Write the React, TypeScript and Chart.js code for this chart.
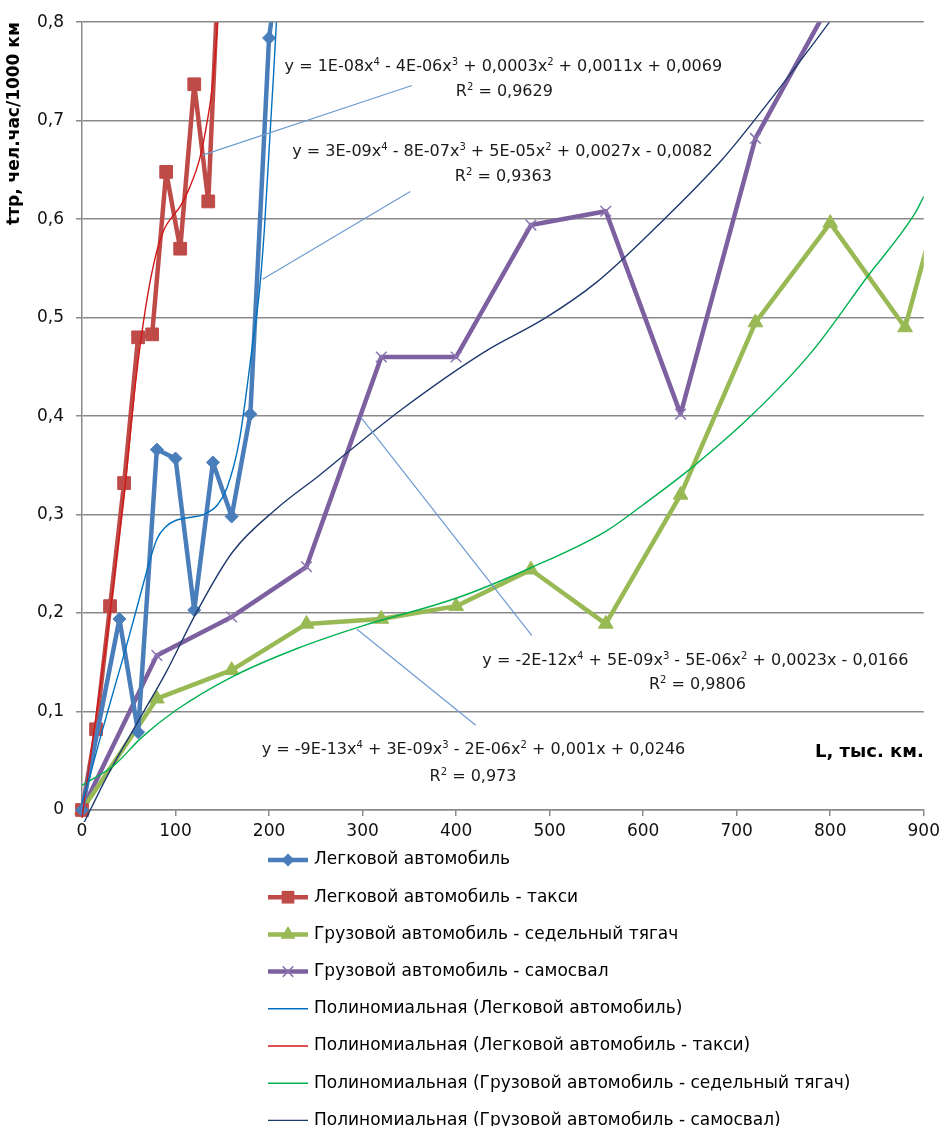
import React, { useEffect, useRef } from 'react';
import { Chart, registerables } from 'chart.js';

Chart.register(...registerables);

// ---- Data ----
const carX = [0, 40, 60, 80, 100, 120, 140, 160, 180, 200, 220];
const carY = [0, 0.194, 0.079, 0.366, 0.357, 0.203, 0.353, 0.298, 0.402, 0.784, 0.93];

const taxiX = [0, 15, 30, 45, 60, 75, 90, 105, 120, 135, 150];
const taxiY = [0, 0.082, 0.207, 0.332, 0.48, 0.483, 0.648, 0.57, 0.737, 0.618, 0.94];

const tractorX = [0, 80, 160, 240, 320, 400, 480, 560, 640, 720, 800, 880, 960];
const tractorY = [0, 0.113, 0.142, 0.189, 0.194, 0.207, 0.244, 0.189, 0.32, 0.495, 0.596, 0.49, 0.77];

const dumpX = [0, 80, 160, 240, 320, 400, 480, 560, 640, 720, 800];
const dumpY = [0, 0.157, 0.196, 0.247, 0.46, 0.46, 0.594, 0.608, 0.402, 0.682, 0.82];

// Trend lines
const carTrendX = [0, 10, 20, 35, 50, 60, 70, 80, 90, 100, 115, 130, 145, 155, 168, 182, 190, 195, 200, 205, 209, 213];
const carTrendY = [0.007, 0.04, 0.075, 0.125, 0.175, 0.21, 0.245, 0.275, 0.288, 0.294, 0.297, 0.3, 0.31, 0.327, 0.374, 0.47, 0.53, 0.59, 0.67, 0.75, 0.82, 0.9];

const taxiTrendX = [0, 15, 30, 45, 58, 68, 78, 88, 97, 105, 115, 126, 134, 140, 145, 150];
const taxiTrendY = [-0.008, 0.095, 0.2, 0.32, 0.44, 0.51, 0.56, 0.59, 0.603, 0.613, 0.632, 0.662, 0.7, 0.74, 0.8, 0.88];

const tractorTrendX = [0, 35, 63, 100, 160, 230, 300, 400, 480, 560, 600, 655, 715, 780, 840, 890, 900];
const tractorTrendY = [0.025, 0.046, 0.073, 0.101, 0.135, 0.164, 0.187, 0.215, 0.246, 0.283, 0.31, 0.35, 0.4, 0.465, 0.542, 0.605, 0.623];

const dumpTrendX = [0, 30, 60, 90, 122, 161, 208, 254, 285, 342, 430, 496, 549, 615, 684, 731, 757, 799, 850];
const dumpTrendY = [-0.017, 0.04, 0.09, 0.14, 0.2, 0.262, 0.306, 0.34, 0.364, 0.407, 0.465, 0.5, 0.535, 0.593, 0.66, 0.715, 0.747, 0.8, 0.87];

const seriesLabels = [
  'Легковой автомобиль',
  'Легковой автомобиль - такси',
  'Грузовой автомобиль - седельный тягач',
  'Грузовой автомобиль - самосвал',
  'Полиномиальная (Легковой автомобиль)',
  'Полиномиальная (Легковой автомобиль - такси)',
  'Полиномиальная (Грузовой автомобиль - седельный тягач)',
  'Полиномиальная (Грузовой автомобиль - самосвал)',
];

const xTickValues = [0, 100, 200, 300, 400, 500, 600, 700, 800, 900];
const yTickLabels = ['0', '0,1', '0,2', '0,3', '0,4', '0,5', '0,6', '0,7', '0,8'];

const yTitle = 'tтр, чел.час/1000 км';
const xTitle = 'L, тыс. км.';

// Trend equation labels (superscripts marked with ^)
const eqLines = [
  ['y = 1E-08x^4 - 4E-06x^3 + 0,0003x^2 + 0,0011x + 0,0069', 'R^2 = 0,9629'],
  ['y = 3E-09x^4 - 8E-07x^3 + 5E-05x^2 + 0,0027x - 0,0082', 'R^2 = 0,9363'],
  ['y = -2E-12x^4 + 5E-09x^3 - 5E-06x^2 + 0,0023x - 0,0166', 'R^2 = 0,9806'],
  ['y = -9E-13x^4 + 3E-09x^3 - 2E-06x^2 + 0,001x + 0,0246', 'R^2 = 0,973'],
];

const FONT = "'DejaVu Sans', sans-serif";

const pts = (xs: number[], ys: number[]) => xs.map((x, i) => ({ x, y: ys[i] }));

function drawRich(ctx: CanvasRenderingContext2D, text: string, cx: number, cy: number, size: number) {
  const parts: { t: string; sup: boolean }[] = [];
  const re = /\^(\d)/g;
  let last = 0;
  let m: RegExpExecArray | null;
  while ((m = re.exec(text))) {
    if (m.index > last) parts.push({ t: text.slice(last, m.index), sup: false });
    parts.push({ t: m[1], sup: true });
    last = m.index + m[0].length;
  }
  if (last < text.length) parts.push({ t: text.slice(last), sup: false });
  const normal = `${size}px ${FONT}`;
  const small = `${Math.round(size * 0.62)}px ${FONT}`;
  let total = 0;
  const widths = parts.map((p) => {
    ctx.font = p.sup ? small : normal;
    const w = ctx.measureText(p.t).width;
    total += w;
    return w;
  });
  let x = cx - total / 2;
  const base = cy + size * 0.36;
  ctx.textAlign = 'left';
  ctx.textBaseline = 'alphabetic';
  parts.forEach((p, i) => {
    ctx.font = p.sup ? small : normal;
    ctx.fillText(p.t, x, p.sup ? base - size * 0.38 : base);
    x += widths[i];
  });
}

function drawMarker(ctx: CanvasRenderingContext2D, style: string, x: number, y: number, r: number, color: string) {
  ctx.save();
  ctx.fillStyle = color;
  ctx.strokeStyle = color;
  ctx.beginPath();
  if (style === 'rectRot') {
    ctx.moveTo(x, y - r);
    ctx.lineTo(x + r, y);
    ctx.lineTo(x, y + r);
    ctx.lineTo(x - r, y);
    ctx.closePath();
    ctx.fill();
  } else if (style === 'rect') {
    const s = r * Math.SQRT1_2;
    ctx.rect(x - s, y - s, 2 * s, 2 * s);
    ctx.fill();
  } else if (style === 'triangle') {
    ctx.moveTo(x, y - r);
    ctx.lineTo(x + r * 0.866, y + r * 0.5);
    ctx.lineTo(x - r * 0.866, y + r * 0.5);
    ctx.closePath();
    ctx.fill();
  } else if (style === 'crossRot') {
    const d = r * Math.SQRT1_2;
    ctx.lineWidth = 1.5;
    ctx.moveTo(x - d, y - d);
    ctx.lineTo(x + d, y + d);
    ctx.moveTo(x + d, y - d);
    ctx.lineTo(x - d, y + d);
    ctx.stroke();
  }
  ctx.restore();
}

const annotationPlugin = {
  id: 'trendAnnotations',
  afterDatasetsDraw(chart: any) {
    const { ctx, scales } = chart;
    const xs = scales.x;
    const ys = scales.y;
    const opts = chart.options.plugins.trendAnnotations;
    ctx.save();
    // leader lines
    ctx.strokeStyle = opts.leaderColor;
    ctx.lineWidth = 1.2;
    opts.leaders.forEach((l: number[]) => {
      ctx.beginPath();
      ctx.moveTo(xs.getPixelForValue(l[0]), ys.getPixelForValue(l[1]));
      ctx.lineTo(xs.getPixelForValue(l[2]), ys.getPixelForValue(l[3]));
      ctx.stroke();
    });
    // equations
    ctx.fillStyle = '#1a1a1a';
    opts.labelPos.forEach((p: number[], i: number) => {
      drawRich(ctx, eqLines[i][0], xs.getPixelForValue(p[0]), ys.getPixelForValue(p[1]), 16);
      drawRich(ctx, eqLines[i][1], xs.getPixelForValue(p[2]), ys.getPixelForValue(p[3]), 16);
    });
    // x axis title inside plot
    ctx.font = `bold 18px ${FONT}`;
    ctx.fillStyle = '#000';
    ctx.textAlign = 'right';
    ctx.textBaseline = 'middle';
    ctx.fillText(xTitle, xs.getPixelForValue(opts.xTitlePos[0]), ys.getPixelForValue(opts.xTitlePos[1]));
    ctx.restore();
  },
  afterDraw(chart: any) {
    const { ctx } = chart;
    const lg = chart.options.plugins.trendAnnotations.legend;
    ctx.save();
    chart.data.datasets.forEach((ds: any, i: number) => {
      const y = lg.top + i * lg.spacing;
      ctx.beginPath();
      ctx.strokeStyle = ds.borderColor;
      ctx.lineWidth = ds.borderWidth;
      ctx.moveTo(lg.left, y);
      ctx.lineTo(lg.left + lg.lineLen, y);
      ctx.stroke();
      if (ds.pointRadius > 0) {
        drawMarker(ctx, ds.pointStyle, lg.left + lg.lineLen / 2, y, ds.pointRadius, ds.pointBorderColor);
      }
      ctx.font = `17px ${FONT}`;
      ctx.fillStyle = '#000';
      ctx.textAlign = 'left';
      ctx.textBaseline = 'middle';
      ctx.fillText(ds.label, lg.left + lg.lineLen + 6, y);
    });
    ctx.restore();
  },
};

export default function App() {
  const ref = useRef<HTMLCanvasElement | null>(null);

  useEffect(() => {
    document.body.style.margin = '0';
    const canvas = ref.current;
    if (!canvas) return;
    const gridColor = '#8a8a8a';
    const clip = { left: 12, bottom: 12, top: 0, right: 0 };
    const main = (i: number, xs: number[], ys: number[], color: string, style: string, r: number, markerColor: string, pbw: number) => ({
      label: seriesLabels[i],
      data: pts(xs, ys),
      showLine: true,
      borderColor: color,
      backgroundColor: color,
      borderWidth: 4.5,
      borderJoinStyle: 'round',
      borderCapStyle: 'round',
      pointStyle: style,
      pointRadius: r,
      pointBackgroundColor: markerColor,
      pointBorderColor: markerColor,
      pointBorderWidth: pbw,
      tension: 0,
      clip,
      order: 1,
    });
    const trend = (i: number, xs: number[], ys: number[], color: string) => ({
      label: seriesLabels[i],
      data: pts(xs, ys),
      showLine: true,
      borderColor: color,
      backgroundColor: color,
      borderWidth: 1.4,
      borderJoinStyle: 'round',
      pointRadius: 0,
      pointStyle: 'line',
      cubicInterpolationMode: 'monotone',
      clip,
      order: 0,
    });

    const chart = new Chart(canvas, {
      type: 'scatter',
      data: {
        datasets: [
          main(0, carX, carY, '#4a7ebb', 'rectRot', 6.5, '#4a7ebb', 1),
          main(1, taxiX, taxiY, '#be4b48', 'rect', 9, '#be4b48', 1),
          main(2, tractorX, tractorY, '#98b954', 'triangle', 8.5, '#98b954', 1),
          main(3, dumpX, dumpY, '#7d60a0', 'crossRot', 7.5, '#8c74b0', 1.5),
          trend(4, carTrendX, carTrendY, '#0070c0'),
          trend(5, taxiTrendX, taxiTrendY, '#d01818'),
          trend(6, tractorTrendX, tractorTrendY, '#00b050'),
          trend(7, dumpTrendX, dumpTrendY, '#1f3a6e'),
        ] as any,
      },
      options: {
        animation: false,
        responsive: false,
        layout: { padding: { left: 0, right: 16, top: 18, bottom: 276 } },
        plugins: {
          legend: { display: false },
          tooltip: { enabled: false },
          trendAnnotations: {
            leaderColor: '#6f9bd3',
            leaders: [
              [129, 0.665, 352.8, 0.7357],
              [193, 0.539, 351, 0.628],
              [298, 0.399, 481, 0.177],
              [294, 0.1835, 421, 0.086],
            ],
            labelPos: [
              [450.5, 0.7566, 451.6, 0.7306],
              [449.5, 0.67, 450.5, 0.6444],
              [655.8, 0.1535, 658, 0.1283],
              [418.6, 0.0626, 418.1, 0.0354],
            ],
            xTitlePos: [900, 0.0586],
            legend: { left: 268, top: 860, spacing: 37.2, lineLen: 40 },
          },
        } as any,
        scales: {
          x: {
            type: 'linear',
            min: 0,
            max: 900,
            afterBuildTicks: (s: any) => {
              s.ticks = xTickValues.map((v) => ({ value: v }));
            },
            ticks: {
              color: '#111',
              font: { family: FONT, size: 17 },
              padding: 5,
              maxRotation: 0,
              callback: (v: any) => String(v),
            },
            grid: { drawOnChartArea: false, drawTicks: true, tickLength: 6, color: gridColor, lineWidth: 1.5 },
            border: { color: gridColor, width: 1.5 },
            afterFit: (s: any) => {
              s.height = 40;
            },
          },
          y: {
            type: 'linear',
            min: 0,
            max: 0.8,
            afterBuildTicks: (s: any) => {
              s.ticks = yTickLabels.map((_, i) => ({ value: i / 10 }));
            },
            ticks: {
              color: '#111',
              font: { family: FONT, size: 17 },
              padding: 12,
              callback: (v: any) => yTickLabels[Math.round(v * 10)],
            },
            grid: { color: gridColor, lineWidth: 1.5, tickLength: 6 },
            border: { color: gridColor, width: 1.5 },
            title: {
              display: true,
              text: yTitle,
              align: 'end',
              color: '#000',
              font: { family: FONT, size: 17, weight: 'bold' },
              padding: { top: 4, bottom: 0 },
            },
            afterFit: (s: any) => {
              s.width = 82;
            },
          },
        },
      } as any,
      plugins: [annotationPlugin],
    });
    return () => chart.destroy();
  }, []);

  return (
    <div style={{ width: 945, height: 1126, background: '#fff' }}>
      <canvas ref={ref} width={945} height={1126} style={{ display: 'block' }} />
    </div>
  );
}
